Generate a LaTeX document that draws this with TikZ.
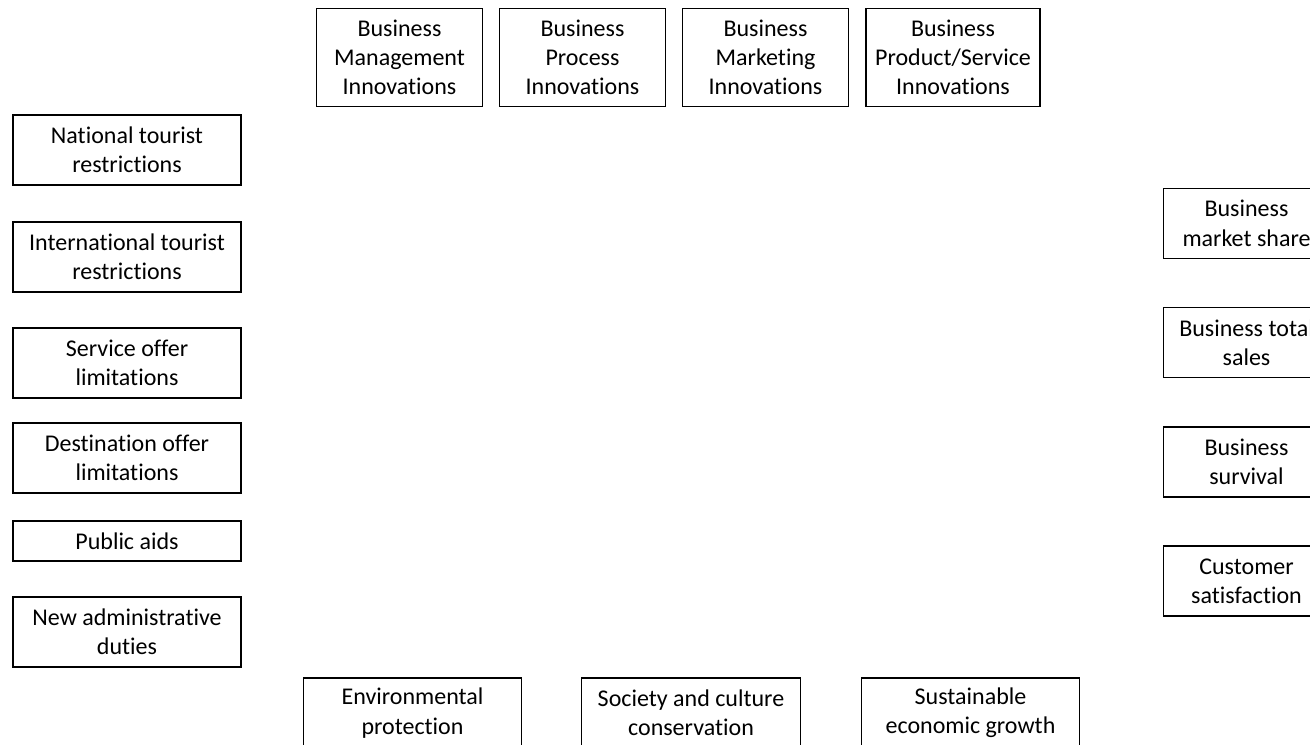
\documentclass[tikz,border=0pt]{standalone}
\usepackage{fontspec}
\setmainfont[Ligatures=NoCommon]{Carlito}
\begin{document}
\begin{tikzpicture}
  [x=0.75pt, y=-0.75pt,
   box/.style={draw, line width=0.8pt, align=center, inner sep=0pt,
     minimum height=52.5pt, font=\fontsize{18}{22}\selectfont},
   narrow/.style={box, minimum width=125pt},
   wide/.style={box, minimum width=171pt}]
  % Page frame, boxes on the right and bottom run past it
  \clip (0,0) rectangle (1310,745);
  \fill[white] (0,0) rectangle (1310,745);

  % Innovation types along the top
  \node (mgmt) at (399.5, 57.5) [narrow, minimum height=74pt] {Business\\Management\\Innovations};
  \node (proc) at (582.5, 57.5) [narrow, minimum height=74pt] {Business\\Process\\Innovations};
  \node (mkt)  at (765.5, 57.5) [narrow, minimum height=74pt] {Business\\Marketing\\Innovations};
  \node (prod) at (953, 57.5) [narrow, minimum height=74pt, minimum width=130.5pt] {Business\\Product/Service\\Innovations};

  % Context factors on the left
  \node (nat)   at (127, 150) [wide] {National tourist\\restrictions};
  \node (intl)  at (127, 257) [wide] {International tourist\\restrictions};
  \node (serv)  at (127, 363) [wide] {Service offer\\limitations};
  \node (dest)  at (127, 458) [wide] {Destination offer\\limitations};
  \node (aids)  at (127, 541) [wide, minimum height=30pt] {Public aids};
  \node (admin) at (127, 632) [wide] {New administrative\\duties};

  % Business outcomes on the right
  \node (share) at (1246.5, 223.5) [narrow] {Business\\market share};
  \node (sales) at (1246.5, 342.5) [narrow] {Business total\\sales};
  \node (surv)  at (1246.5, 462)   [narrow] {Business\\survival};
  \node (satis) at (1246.5, 581)   [narrow] {Customer\\satisfaction};

  % Sustainability outcomes at the bottom
  \node (env)  at (412.5, 713) [box, minimum width=164pt] {Environmental\\protection};
  \node (soc)  at (691, 713)   [box, minimum width=164pt] {Society and culture\\conservation};
  \node (econ) at (970.5, 713) [box, minimum width=164pt] {Sustainable\\economic growth};
\end{tikzpicture}
\end{document}
